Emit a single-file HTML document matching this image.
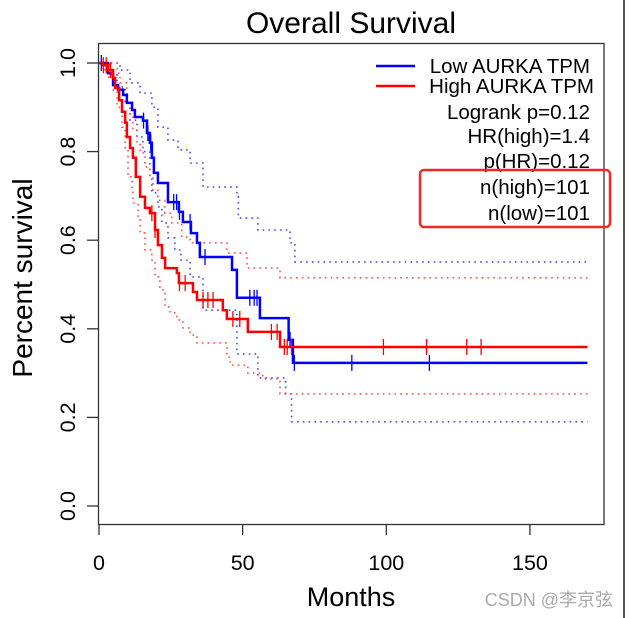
<!DOCTYPE html>
<html><head><meta charset="utf-8">
<style>
html,body{margin:0;padding:0;background:#fff;}
svg{display:block;font-family:"Liberation Sans",Arial,sans-serif;}
</style></head>
<body>
<svg id="chart" width="633" height="618" viewBox="0 0 633 618">
  <rect x="0" y="0" width="633" height="618" fill="#fff"/>
  <line x1="624" y1="0" x2="624" y2="618" stroke="#555" stroke-width="2"/>
  <text x="351" y="33" font-size="30" text-anchor="middle" fill="#000">Overall Survival</text>
  <rect x="98.5" y="43.5" width="505.5" height="481" fill="none" stroke="#333" stroke-width="1.3"/>
  <g id="axes"></g>
  <g id="series"></g>
  <text transform="translate(32,278) rotate(-90)" font-size="28" text-anchor="middle" fill="#000">Percent survival</text>
  <text x="351" y="606" font-size="27" text-anchor="middle" fill="#000">Months</text>
  <g>
    <line x1="376" y1="66" x2="415" y2="66" stroke="#0000ff" stroke-width="2.5"/>
    <text x="590" y="73" font-size="20.5" text-anchor="end">Low AURKA TPM</text>
    <line x1="376" y1="86" x2="415" y2="86" stroke="#ff0000" stroke-width="2.5"/>
    <text x="594" y="93" font-size="20.5" text-anchor="end">High AURKA TPM</text>
    <text x="590" y="119" font-size="20.5" text-anchor="end">Logrank p=0.12</text>
    <text x="590" y="143" font-size="20.5" text-anchor="end">HR(high)=1.4</text>
    <text x="590" y="168" font-size="20.5" text-anchor="end">p(HR)=0.12</text>
    <text x="590" y="194" font-size="20.5" text-anchor="end">n(high)=101</text>
    <text x="590" y="220" font-size="20.5" text-anchor="end">n(low)=101</text>
  </g>
  <rect x="420" y="170" width="190" height="57" rx="4" fill="none" stroke="#ee2a24" stroke-width="2.5"/>
  <text x="613" y="606" font-size="18" text-anchor="end" fill="#aaa" font-family="Liberation Sans, Noto Sans CJK SC, sans-serif">CSDN @李京弦</text>
</svg>
<script>
const xTicks = [0, 50, 100, 150];
const yTicks = [0.0, 0.2, 0.4, 0.6, 0.8, 1.0];
const yTickLabels = ["0.0", "0.2", "0.4", "0.6", "0.8", "1.0"];
const endTime = 170;

const lowTimes = [0,3.1,4.9,6.6,8.4,9.7,11.5,12.5,15.3,16.7,17.7,18.4,19.1,20.5,24,27.8,29.2,32,34.1,35.1,46.3,48,56,66,67.5];
const lowSurv  = [1.0,0.977,0.95,0.94,0.928,0.91,0.894,0.878,0.87,0.842,0.82,0.786,0.752,0.729,0.686,0.664,0.641,0.616,0.594,0.562,0.533,0.47,0.424,0.375,0.323];
const lowCensor = [0.8,15.5,17,18,26,27,28,31.7,36.9,52.5,54,55,66.5,68,88,115];

const highTimes = [0,1.4,3.1,4.9,5.6,7,8,9.1,9.7,10.8,11.8,12.8,14.3,16,17.7,19.5,20.5,21.9,23,27.1,27.8,32.7,34.1,43.1,44.5,51.8,63];
const highSurv  = [1.0,0.995,0.984,0.966,0.944,0.916,0.89,0.865,0.833,0.808,0.786,0.743,0.698,0.673,0.661,0.623,0.589,0.56,0.537,0.526,0.503,0.483,0.465,0.442,0.422,0.393,0.359];
const highCensor = [1.5,2.5,4,18.4,19.5,28,30,36.2,37.9,39.7,46.6,49,60,62,64.5,65.5,67,99,114,128,133];

const lowUpTimes = [0,3.8,7.3,10.8,14.3,18.4,20.5,24,27.5,31.7,36.2,48,48.5,55.3,66.5,68.2];
const lowUpSurv  = [1.0,1.0,0.984,0.955,0.932,0.9,0.855,0.826,0.804,0.774,0.72,0.698,0.65,0.623,0.594,0.551];
const lowLoTimes = [0,3.8,6.3,9.1,10.8,13.2,15.3,17.7,18.4,20.5,21.9,24,26.4,28.5,31.7,36.2,48,55.3,65,67];
const lowLoSurv  = [1.0,0.973,0.946,0.91,0.871,0.833,0.8,0.743,0.707,0.675,0.639,0.605,0.578,0.555,0.517,0.442,0.343,0.289,0.253,0.19];

const highUpTimes = [0,1.4,6.3,7.3,9.7,10.8,11.8,13.2,14.3,16,17.7,18.8,20.5,22.9,25.3,28.8,31.7,44.5,51.5,63];
const highUpSurv  = [1.0,1.0,0.977,0.955,0.91,0.878,0.849,0.82,0.797,0.765,0.743,0.713,0.69,0.661,0.639,0.607,0.594,0.571,0.537,0.515];
const highLoTimes = [0,1.4,3.1,4.9,6.3,8,9.1,10.1,11.5,11.8,13.6,14.3,16,18.4,19.5,21.2,23,24.7,27.1,29.2,31.7,34.1,44.5,45.6,51.8,57,63];
const highLoSurv  = [1.0,0.985,0.968,0.939,0.9,0.855,0.804,0.743,0.713,0.684,0.646,0.616,0.578,0.555,0.517,0.488,0.449,0.436,0.42,0.402,0.386,0.368,0.336,0.318,0.3,0.287,0.253];

const X0 = 99, XS = 2.873, Y0 = 506, YS = 443;
function xScale(t){ return X0 + t * XS; }
function yScale(s){ return Y0 - s * YS; }
const NS = "http://www.w3.org/2000/svg";
const axes = document.getElementById('axes');
const layer = document.getElementById('series');

function mk(tag, attrs, parent){
  const e = document.createElementNS(NS, tag);
  for (const k in attrs) e.setAttribute(k, attrs[k]);
  parent.appendChild(e);
  return e;
}

xTicks.forEach(function(v){
  const x = xScale(v);
  const t = mk('line', {x1:x, y1:524.5, x2:x, y2:535, stroke:'#333', 'stroke-width':1.3}, axes);
  
  
  const l = mk('text', {x:x, y:570, 'font-size':21.5, 'text-anchor':'middle', fill:'#000'}, axes);
  l.textContent = String(v);
  
  
});
yTicks.forEach(function(v, i){
  const y = yScale(v);
  const t = mk('line', {x1:87, y1:y, x2:98.5, y2:y, stroke:'#333', 'stroke-width':1.3}, axes);
  
  
  const l = mk('text', {transform:'translate(75,' + y + ') rotate(-90)', 'font-size':21.5, 'text-anchor':'middle', fill:'#000'}, axes);
  l.textContent = yTickLabels[i];
  
  
});

function stepPath(times, surv){
  let d = 'M' + xScale(times[0]) + ',' + yScale(surv[0]);
  for (let i = 1; i < times.length; i++){
    d += ' H' + xScale(times[i]) + ' V' + yScale(surv[i]);
  }
  d += ' H' + xScale(endTime);
  return d;
}
function survAt(times, surv, t){
  let s = surv[0];
  for (let i = 0; i < times.length; i++){ if (times[i] <= t) s = surv[i]; }
  return s;
}

const ciLow1 = mk('path', {d:stepPath(lowUpTimes, lowUpSurv), fill:'none', stroke:'#4a4aff', 'stroke-width':1.6, 'stroke-dasharray':'1.6 4.2'}, layer);


const ciLow2 = mk('path', {d:stepPath(lowLoTimes, lowLoSurv), fill:'none', stroke:'#4a4aff', 'stroke-width':1.6, 'stroke-dasharray':'1.6 4.2'}, layer);


const ciHigh1 = mk('path', {d:stepPath(highUpTimes, highUpSurv), fill:'none', stroke:'#ff5050', 'stroke-width':1.6, 'stroke-dasharray':'1.6 4.2'}, layer);


const ciHigh2 = mk('path', {d:stepPath(highLoTimes, highLoSurv), fill:'none', stroke:'#ff5050', 'stroke-width':1.6, 'stroke-dasharray':'1.6 4.2'}, layer);



const lowLine = mk('path', {d:stepPath(lowTimes, lowSurv), fill:'none', stroke:'#0000ff', 'stroke-width':2.5}, layer);


const highLine = mk('path', {d:stepPath(highTimes, highSurv), fill:'none', stroke:'#ff0000', 'stroke-width':2.5}, layer);



lowCensor.forEach(function(t){
  const x = xScale(t), y = yScale(survAt(lowTimes, lowSurv, t));
  const c = mk('line', {x1:x, y1:y-8, x2:x, y2:y+8, stroke:'#0000ff', 'stroke-width':1.3}, layer);
  
  
});
highCensor.forEach(function(t){
  const x = xScale(t), y = yScale(survAt(highTimes, highSurv, t));
  const c = mk('line', {x1:x, y1:y-8, x2:x, y2:y+8, stroke:'#ff0000', 'stroke-width':1.3}, layer);
  
  
});
</script>
</body></html>
